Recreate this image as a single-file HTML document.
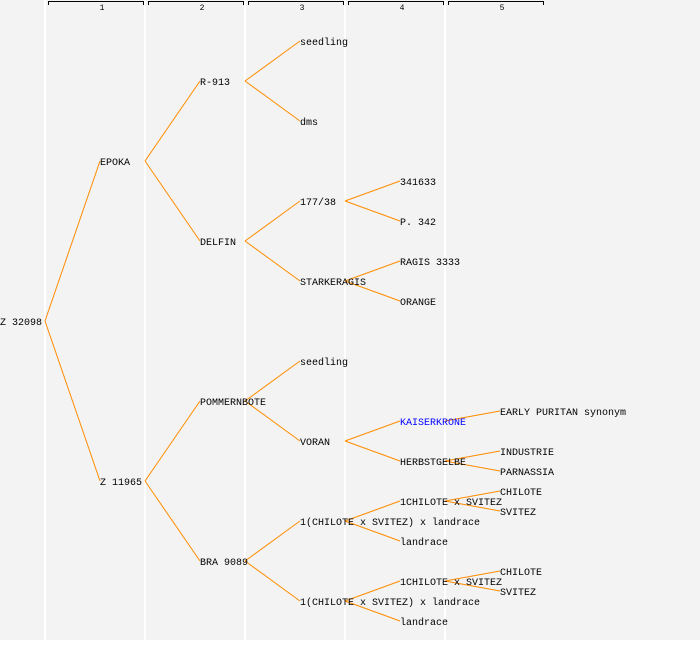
<!DOCTYPE html>
<html><head><style>body{margin:0;background:#fff}</style></head><body>
<svg width="700" height="640" xmlns="http://www.w3.org/2000/svg" font-family="Liberation Mono, DejaVu Sans Mono, monospace" font-size="10">
<rect width="700" height="640" fill="#f3f3f3"/>
<g stroke="#fff" stroke-width="2">
<line x1="45" y1="0" x2="45" y2="640"/><line x1="145" y1="0" x2="145" y2="640"/><line x1="245" y1="0" x2="245" y2="640"/><line x1="345" y1="0" x2="345" y2="640"/><line x1="445" y1="0" x2="445" y2="640"/>
</g>
<g stroke="#000" fill="none" stroke-width="1">
<path d="M48.5 5V1.5H143.5V5"/><path d="M148.5 5V1.5H243.5V5"/><path d="M248.5 5V1.5H343.5V5"/><path d="M348.5 5V1.5H443.5V5"/><path d="M448.5 5V1.5H543.5V5"/>
</g>
<g font-size="8" text-anchor="middle" fill="#000">
<text x="102" y="10">1</text><text x="202" y="10">2</text><text x="302" y="10">3</text><text x="402" y="10">4</text><text x="502" y="10">5</text>
</g>
<g stroke="#ff8c00" stroke-width="1" fill="none">
<path d="M45 321L100 161M45 321L100 481"/>
<path d="M145 161L200 81M145 161L200 241M145 481L200 401M145 481L200 561"/>
<path d="M245 81L300 41M245 81L300 121M245 241L300 201M245 241L300 281M245 401L300 361M245 401L300 441M245 561L300 521M245 561L300 601"/>
<path d="M345 201L400 181M345 201L400 221M345 281L400 261M345 281L400 301M345 441L400 421M345 441L400 461M345 521L400 501M345 521L400 541M345 601L400 581M345 601L400 621"/>
<path d="M445 421L500 411M445 461L500 451M445 461L500 471M445 501L500 491M445 501L500 511M445 581L500 571M445 581L500 591"/>
</g>
<g fill="#000">
<text x="0" y="325">Z 32098</text>
<text x="100" y="165">EPOKA</text><text x="100" y="485">Z 11965</text>
<text x="200" y="85">R-913</text><text x="200" y="245">DELFIN</text><text x="200" y="405">POMMERNBOTE</text><text x="200" y="565">BRA 9089</text>
<text x="300" y="45">seedling</text><text x="300" y="125">dms</text><text x="300" y="205">177/38</text><text x="300" y="285">STARKERAGIS</text><text x="300" y="365">seedling</text><text x="300" y="445">VORAN</text><text x="300" y="525">1(CHILOTE x SVITEZ) x landrace</text><text x="300" y="605">1(CHILOTE x SVITEZ) x landrace</text>
<text x="400" y="185">341633</text><text x="400" y="225">P. 342</text><text x="400" y="265">RAGIS 3333</text><text x="400" y="305">ORANGE</text><text x="400" y="425" fill="#0000ff">KAISERKRONE</text><text x="400" y="465">HERBSTGELBE</text><text x="400" y="505">1CHILOTE x SVITEZ</text><text x="400" y="545">landrace</text><text x="400" y="585">1CHILOTE x SVITEZ</text><text x="400" y="625">landrace</text>
<text x="500" y="415">EARLY PURITAN synonym</text><text x="500" y="455">INDUSTRIE</text><text x="500" y="475">PARNASSIA</text><text x="500" y="495">CHILOTE</text><text x="500" y="515">SVITEZ</text><text x="500" y="575">CHILOTE</text><text x="500" y="595">SVITEZ</text>
</g>
</svg>
</body></html>
